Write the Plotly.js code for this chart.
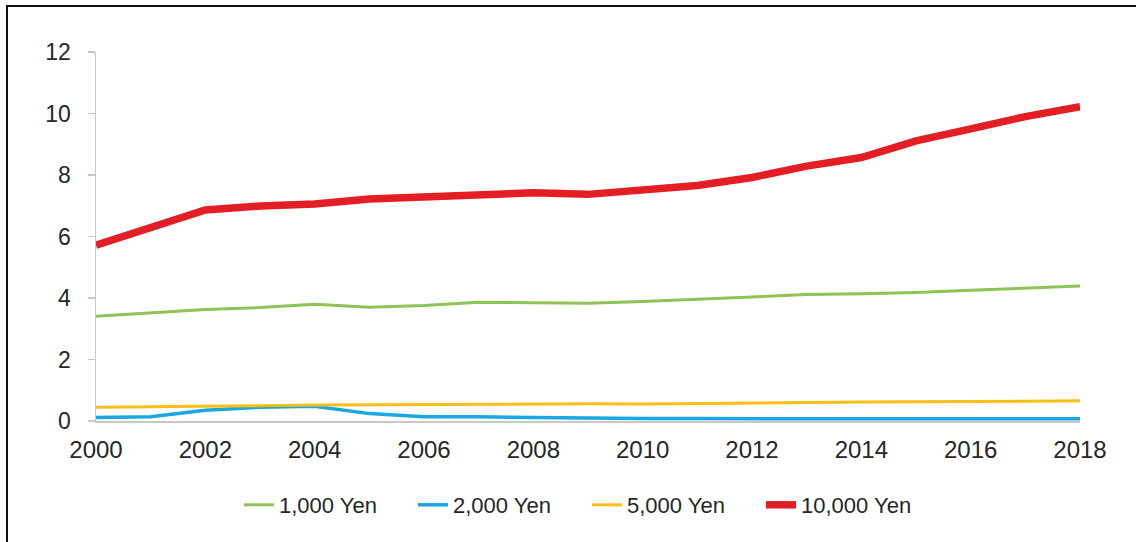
<!DOCTYPE html>
<html>
<head>
<meta charset="utf-8">
<script src="https://cdn.plot.ly/plotly-3.0.1.min.js"></script>
<style>
  html, body { margin: 0; padding: 0; background: #fff; }
  #wrap { position: relative; width: 1136px; height: 542px; overflow: hidden; }
  #chart { width: 1136px; height: 542px; }
  #frame { position: absolute; left: 6px; top: 5px; width: 1200px; height: 600px;
           border-top: 2px solid #111; border-left: 2px solid #111; pointer-events: none; }
</style>
</head>
<body>
<div id="wrap">
  <div id="chart"></div>
  <div id="frame"></div>
</div>
<script>
const years = [2000,2001,2002,2003,2004,2005,2006,2007,2008,2009,2010,2011,2012,2013,2014,2015,2016,2017,2018];
const yen1000  = [3.41,3.53,3.63,3.69,3.80,3.70,3.76,3.86,3.85,3.83,3.89,3.97,4.04,4.11,4.14,4.18,4.25,4.31,4.39];
const yen2000  = [0.11,0.14,0.35,0.45,0.48,0.24,0.14,0.14,0.11,0.09,0.08,0.08,0.07,0.07,0.07,0.07,0.07,0.07,0.07];
const yen5000  = [0.45,0.46,0.49,0.50,0.52,0.53,0.53,0.55,0.56,0.56,0.55,0.56,0.58,0.60,0.62,0.62,0.62,0.64,0.66];
const yen10000 = [5.72,6.32,6.86,6.99,7.06,7.22,7.30,7.40,7.42,7.37,7.51,7.66,7.92,8.29,8.57,9.11,9.50,9.90,10.22];
const seriesNames = ['1,000 Yen','2,000 Yen','5,000 Yen','10,000 Yen'];
const xTicks = [2000,2002,2004,2006,2008,2010,2012,2014,2016,2018];
const yTicks = [0,2,4,6,8,10,12];

const traces = [
  {x: years, y: yen1000,  name: seriesNames[0], line: {color: '#8fc356', width: 3}},
  {x: years, y: yen2000,  name: seriesNames[1], line: {color: '#1ba7e2', width: 3.5}},
  {x: years, y: yen5000,  name: seriesNames[2], line: {color: '#fdbf16', width: 3}},
  {x: years, y: yen10000, name: seriesNames[3], line: {color: '#e31e24', width: 7.5}}
].map(t => Object.assign({type: 'scatter', mode: 'lines', hoverinfo: 'x+y+name'}, t));

const layout = {
  width: 1136, height: 542,
  margin: {l: 96, r: 56, t: 52, b: 121, pad: 0},
  paper_bgcolor: '#fff', plot_bgcolor: '#fff',
  font: {family: 'Liberation Sans, Arial, sans-serif', color: '#262626', size: 23},
  showlegend: true,
  legend: {
    orientation: 'h', xref: 'container', yref: 'container',
    x: 239/1136, xanchor: 'left', y: 1 - 505/542, yanchor: 'middle',
    font: {size: 22, color: '#262626'}, entrywidth: 129, entrywidthmode: 'pixels',
    itemwidth: 30, traceorder: 'normal', bgcolor: 'rgba(0,0,0,0)'
  },
  xaxis: {
    range: [2000, 2018], tickvals: xTicks, ticktext: xTicks.map(String),
    showgrid: false, zeroline: false, showline: true, linecolor: '#c8c8c8', linewidth: 1.5,
    ticks: '', ticklabelstandoff: 7, tickfont: {size: 24}, fixedrange: true
  },
  yaxis: {
    range: [0, 12], tickvals: yTicks, ticktext: yTicks.map(String),
    showgrid: false, zeroline: false, showline: true, linecolor: '#c8c8c8', linewidth: 1.5,
    ticks: 'outside', ticklen: 7, tickcolor: '#c8c8c8', tickwidth: 1.5,
    ticklabelstandoff: 12, tickfont: {size: 23}, fixedrange: true
  }
};

Plotly.newPlot('chart', traces, layout, {displayModeBar: false, staticPlot: true});
</script>
</body>
</html>
